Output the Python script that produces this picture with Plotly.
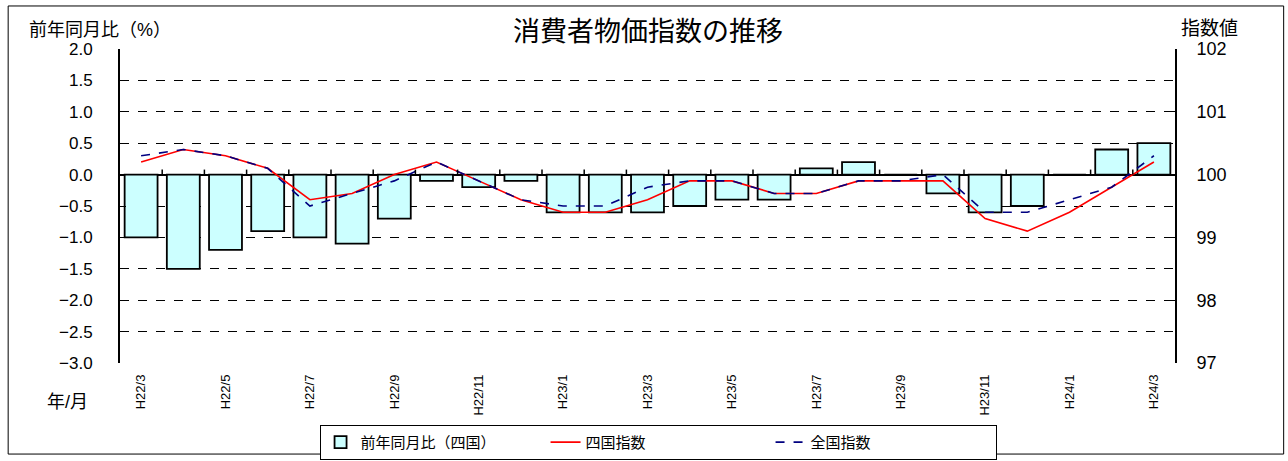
import plotly.graph_objects as go

months = ["H22/3", "H22/4", "H22/5", "H22/6", "H22/7", "H22/8", "H22/9", "H22/10",
          "H22/11", "H22/12", "H23/1", "H23/2", "H23/3", "H23/4", "H23/5", "H23/6",
          "H23/7", "H23/8", "H23/9", "H23/10", "H23/11", "H23/12", "H24/1", "H24/2", "H24/3"]
yoy_shikoku = [-1.0, -1.5, -1.2, -0.9, -1.0, -1.1, -0.7, -0.1, -0.2, -0.1, -0.6, -0.6, -0.6,
               -0.5, -0.4, -0.4, 0.1, 0.2, 0.0, -0.3, -0.6, -0.5, 0.0, 0.4, 0.5]
idx_shikoku = [100.2, 100.4, 100.3, 100.1, 99.6, 99.7, 100.0, 100.2, 99.9, 99.6, 99.4, 99.4,
               99.6, 99.9, 99.9, 99.7, 99.7, 99.9, 99.9, 99.9, 99.3, 99.1, 99.4, 99.8, 100.2]
idx_zenkoku = [100.3, 100.4, 100.3, 100.1, 99.5, 99.7, 99.9, 100.2, 99.9, 99.6, 99.5, 99.5,
               99.8, 99.9, 99.9, 99.7, 99.7, 99.9, 99.9, 100.0, 99.4, 99.4, 99.6, 99.8, 100.3]
tick_labels = months[::2]

FONT = "Liberation Sans, Arial, Noto Sans CJK JP"

fig = go.Figure()
fig.add_trace(go.Bar(
    x=months, y=yoy_shikoku, name="前年同月比（四国）",
    marker=dict(color="#CCFFFF", line=dict(color="black", width=1.8)),
    width=0.78, yaxis="y",
))
fig.add_trace(go.Scatter(
    x=months, y=idx_shikoku, name="四国指数", mode="lines",
    line=dict(color="#FF0000", width=1.6), yaxis="y2",
))
fig.add_trace(go.Scatter(
    x=months, y=idx_zenkoku, name="全国指数", mode="lines",
    line=dict(color="#000080", width=1.6, dash="dash"), yaxis="y2",
))

# small tick marks at category boundaries along the zero line
shapes = []
for i in range(1, len(months)):
    shapes.append(dict(type="line", xref="x", yref="y", x0=i - 0.5, x1=i - 0.5,
                       y0=0, y1=0.08, line=dict(color="black", width=1.5)))
# outer frame
shapes.append(dict(type="rect", xref="paper", yref="paper",
                   x0=-0.106, x1=1.103, y0=-0.29, y1=1.137,
                   line=dict(color="black", width=1), layer="below"))

fig.update_layout(
    width=1288, height=461,
    margin=dict(l=120, r=113, t=49, b=98, autoexpand=False),
    paper_bgcolor="white", plot_bgcolor="white",
    font=dict(family=FONT, size=17, color="black"),
    showlegend=True,
    legend=dict(orientation="h", x=0.51, xanchor="center", y=-0.197, yanchor="top",
                bordercolor="black", borderwidth=1, font=dict(size=15),
                entrywidth=180, entrywidthmode="pixels", traceorder="normal"),
    xaxis=dict(
        type="category", range=[-0.5, len(months) - 0.5],
        tickmode="array", tickvals=tick_labels, ticktext=tick_labels,
        tickangle=-90, tickfont=dict(size=13), ticks="", showgrid=False,
        showline=False, zeroline=False, ticklabelstandoff=8, automargin=False,
    ),
    yaxis=dict(
        range=[-3, 2], dtick=0.5, tick0=0, tickformat=".1f",
        showgrid=True, gridcolor="black", griddash="dash", gridwidth=1,
        zeroline=True, zerolinecolor="black", zerolinewidth=2,
        showline=True, linecolor="black", linewidth=2,
        ticks="inside", ticklen=6, tickcolor="black",
        ticklabelstandoff=22, automargin=False,
    ),
    yaxis2=dict(
        range=[97, 102], dtick=1, overlaying="y", side="right",
        showgrid=False, zeroline=False,
        showline=True, linecolor="black", linewidth=2,
        ticks="inside", ticklen=6, tickcolor="black",
        ticklabelstandoff=16, tickfont=dict(size=18), automargin=False,
    ),
    shapes=shapes,
    annotations=[
        dict(text="消費者物価指数の推移", xref="paper", yref="paper", x=0.5, y=1.054,
             xanchor="center", yanchor="middle", showarrow=False, font=dict(size=27)),
        dict(text="前年同月比（%）", xref="paper", yref="paper", x=-0.088, y=1.06,
             xanchor="left", yanchor="middle", showarrow=False, font=dict(size=18)),
        dict(text="指数値", xref="paper", yref="paper", x=1.033, y=1.066,
             xanchor="center", yanchor="middle", showarrow=False, font=dict(size=19)),
        dict(text="年/月", xref="paper", yref="paper", x=-0.028, y=-0.124,
             xanchor="right", yanchor="middle", showarrow=False, font=dict(size=18)),
    ],
)

fig.write_html("out.html", config={"displayModeBar": False},
               post_script="document.body.style.margin='0';")
